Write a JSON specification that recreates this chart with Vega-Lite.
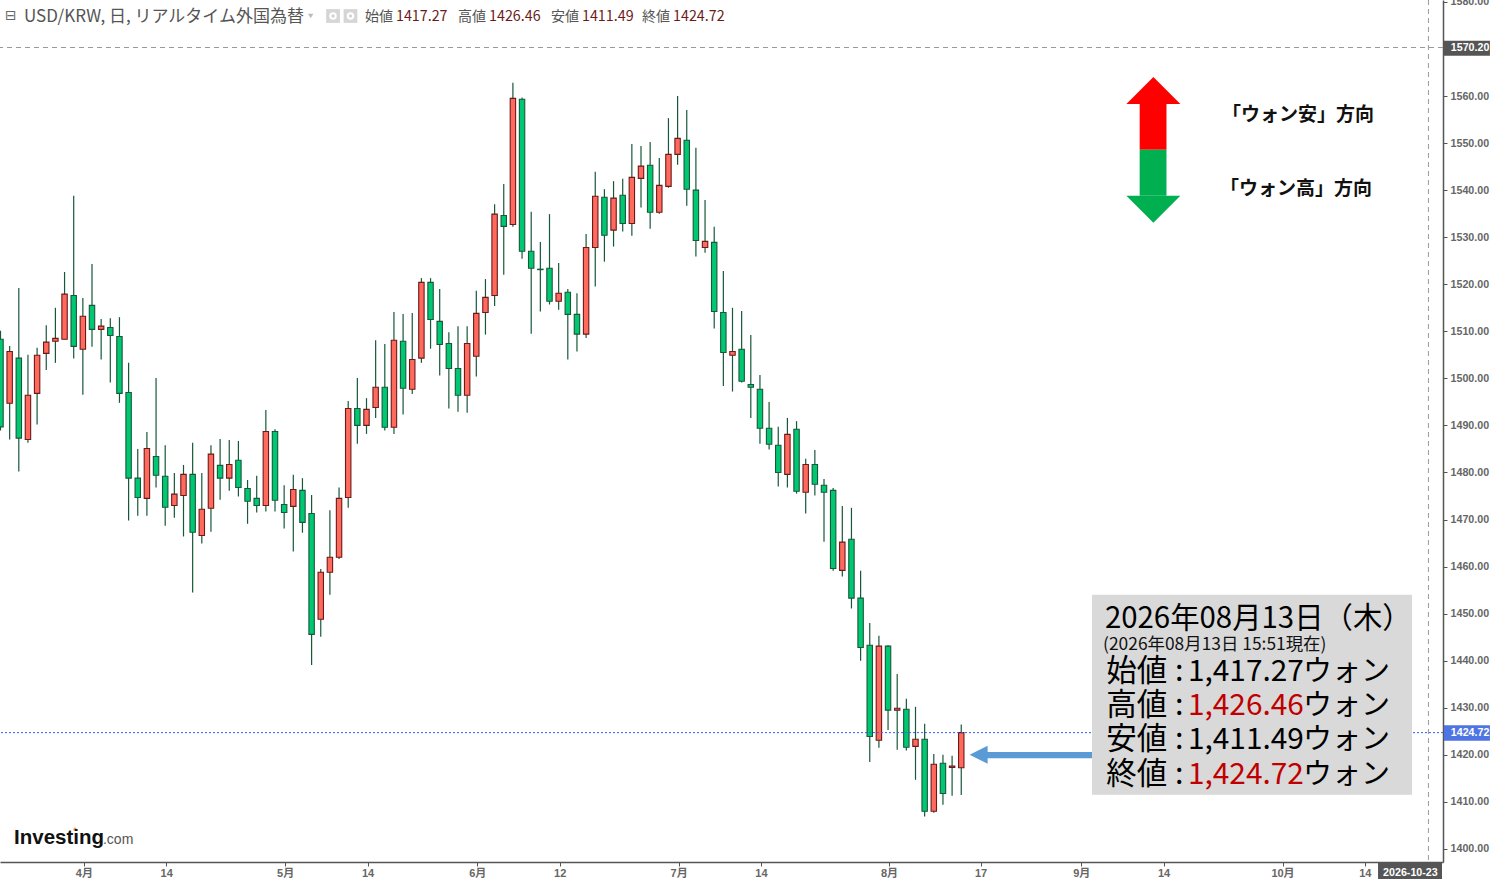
{
  "$schema": "https://vega.github.io/schema/vega-lite/v6.json",
  "width": 1443,
  "height": 862,
  "autosize": {"type": "none"},
  "padding": {"left": 0, "top": 0, "right": 47, "bottom": 17},
  "background": "white",
  "config": {"view": {"stroke": null}, "text": {"font": "Noto Sans CJK JP"}},
  "layer": [
    {
      "data": {"name": "candles"},
      "mark": {"type": "rule", "stroke": "#17583a", "strokeWidth": 1.2, "clip": true},
      "encoding": {
        "x": {
          "field": "slot",
          "type": "quantitative",
          "title": null,
          "scale": {"domain": [-0.055, 157.65], "nice": false, "zero": false, "padding": 0},
          "axis": {
            "orient": "bottom",
            "values": [9, 18, 31, 40, 52, 61, 74, 83, 97, 107, 118, 127, 140, 149],
            "labelExpr": "{'9':'4月','18':'14','31':'5月','40':'14','52':'6月','61':'12','74':'7月','83':'14','97':'8月','107':'17','118':'9月','127':'14','140':'10月','149':'14'}[''+datum.value]",
            "grid": false,
            "domainColor": "#555555",
            "domainWidth": 1.5,
            "tickColor": "#555555",
            "tickSize": 4,
            "tickOffset": 1,
            "labelPadding": 1,
            "labelFont": "Liberation Sans, Noto Sans CJK JP",
            "labelFontWeight": "bold",
            "labelFontSize": 11,
            "labelColor": "#666666",
            "labelOverlap": false,
            "labelFlush": false
          }
        },
        "y": {
          "field": "low",
          "type": "quantitative",
          "title": null,
          "scale": {"domain": [1397.23, 1580.4], "nice": false, "zero": false, "padding": 0},
          "axis": {
            "orient": "right",
            "values": [1400, 1410, 1420, 1430, 1440, 1450, 1460, 1470, 1480, 1490, 1500, 1510, 1520, 1530, 1540, 1550, 1560, 1570, 1580],
            "format": ".2f",
            "grid": false,
            "domainColor": "#555555",
            "domainWidth": 1.5,
            "tickColor": "#555555",
            "tickSize": 4,
            "labelPadding": 3,
            "labelFont": "Liberation Sans",
            "labelFontWeight": "bold",
            "labelFontSize": 10.7,
            "labelColor": "#666666",
            "labelOverlap": false,
            "labelFlush": false
          }
        },
        "y2": {"field": "high"}
      }
    },
    {
      "data": {"name": "candles"},
      "mark": {"type": "bar", "orient": "vertical", "size": 5.4, "strokeWidth": 1.1, "clip": true},
      "encoding": {
        "x": {"field": "slot", "type": "quantitative"},
        "y": {"field": "open", "type": "quantitative"},
        "y2": {"field": "close"},
        "fill": {"field": "kind", "type": "nominal", "legend": null, "scale": {"domain": ["up", "down", "panel", "pointer", "weak", "strong", "tag", "price"], "range": ["#ff6a5d", "#00c872", "#d9d9d9", "#5b9bd5", "#ff0000", "#00b050", "#555555", "#4f74e3"]}},
        "stroke": {"field": "kind", "type": "nominal", "legend": null, "scale": {"domain": ["up", "down"], "range": ["#6b1a1a", "#17583a"]}}
      }
    },
    {
      "data": {"values": [{"level": 1570.3}]},
      "mark": {"type": "rule", "stroke": "#999999", "strokeWidth": 1, "strokeDash": [5, 4]},
      "encoding": {"y": {"field": "level", "type": "quantitative"}}
    },
    {
      "data": {"values": [{"slot": 156.06}]},
      "mark": {"type": "rule", "stroke": "#999999", "strokeWidth": 1, "strokeDash": [5, 4]},
      "encoding": {"x": {"field": "slot", "type": "quantitative"}}
    },
    {
      "data": {"values": [{"level": 1424.72}]},
      "mark": {"type": "rule", "stroke": "#2f5fe8", "strokeWidth": 1, "strokeDash": [2, 2]},
      "encoding": {"y": {"field": "level", "type": "quantitative"}}
    },
    {
      "data": {"name": "boxes"},
      "mark": {"type": "rect", "clip": false},
      "encoding": {
        "x": {"field": "slot", "type": "quantitative"},
        "x2": {"field": "slot2"},
        "y": {"field": "price", "type": "quantitative"},
        "y2": {"field": "price2"},
        "fill": {"field": "kind", "type": "nominal", "legend": null}
      }
    },
    {
      "data": {"values": [{"slot": 126.0, "price": 1558.3}]},
      "mark": {"type": "point", "shape": "M-1,0L0,-1L1,0Z", "size": 2916, "filled": true, "fill": "#ff0000", "opacity": 1, "strokeWidth": 0},
      "encoding": {
        "x": {"field": "slot", "type": "quantitative"},
        "y": {"field": "price", "type": "quantitative"}
      }
    },
    {
      "data": {"values": [{"slot": 126.0, "price": 1538.8}]},
      "mark": {"type": "point", "shape": "M-1,0L0,1L1,0Z", "size": 2916, "filled": true, "fill": "#00b050", "opacity": 1, "strokeWidth": 0},
      "encoding": {
        "x": {"field": "slot", "type": "quantitative"},
        "y": {"field": "price", "type": "quantitative"}
      }
    },
    {
      "data": {"values": [{"slot": 106.9, "price": 1420.0}]},
      "mark": {"type": "point", "shape": "M1,-1L-1,0L1,1Z", "size": 324, "filled": true, "fill": "#5b9bd5", "opacity": 1, "strokeWidth": 0},
      "encoding": {
        "x": {"field": "slot", "type": "quantitative"},
        "y": {"field": "price", "type": "quantitative"}
      }
    },
    {
      "data": {"values": [{"slot": 33.9, "price": 1577.0}]},
      "mark": {"type": "point", "shape": "triangle-down", "size": 28, "filled": true, "fill": "#bbbbbb", "opacity": 1, "strokeWidth": 0},
      "encoding": {
        "x": {"field": "slot", "type": "quantitative"},
        "y": {"field": "price", "type": "quantitative"}
      }
    },
    {
      "data": {"values": [{"slot": 36.34, "price": 1577.0}, {"slot": 38.25, "price": 1577.0}]},
      "mark": {"type": "point", "shape": "square", "size": 190, "filled": true, "fill": "#d6d6d6", "opacity": 1, "strokeWidth": 0},
      "encoding": {
        "x": {"field": "slot", "type": "quantitative"},
        "y": {"field": "price", "type": "quantitative"}
      }
    },
    {
      "data": {"values": [{"slot": 36.34, "price": 1577.0}, {"slot": 38.25, "price": 1577.0}]},
      "mark": {"type": "point", "shape": "circle", "size": 30, "filled": false, "stroke": "white", "opacity": 1, "strokeWidth": 2},
      "encoding": {
        "x": {"field": "slot", "type": "quantitative"},
        "y": {"field": "price", "type": "quantitative"}
      }
    },
    {
      "data": {"values": [{"slot": 8.14, "price": 1404.2}]},
      "mark": {"type": "point", "shape": "circle", "size": 10, "filled": true, "fill": "#f5a623", "opacity": 1, "strokeWidth": 0},
      "encoding": {
        "x": {"field": "slot", "type": "quantitative"},
        "y": {"field": "price", "type": "quantitative"}
      }
    },
    {
      "data": {"name": "texts"},
      "transform": [{"filter": "datum.role == 'icon'"}],
      "mark": {"type": "text", "align": "left", "baseline": "middle", "font": "DejaVu Sans", "fontSize": 14, "fill": "#666666"},
      "encoding": {
        "x": {"field": "slot", "type": "quantitative"},
        "y": {"field": "price", "type": "quantitative"},
        "text": {"field": "label"}
      }
    },
    {
      "data": {"name": "texts"},
      "transform": [{"filter": "datum.role == 'header'"}],
      "mark": {"type": "text", "align": "left", "baseline": "middle", "font": "Noto Sans CJK JP", "fontSize": 17, "fill": "#555555"},
      "encoding": {
        "x": {"field": "slot", "type": "quantitative"},
        "y": {"field": "price", "type": "quantitative"},
        "text": {"field": "label"}
      }
    },
    {
      "data": {"name": "texts"},
      "transform": [{"filter": "datum.role == 'ohlcName'"}],
      "mark": {"type": "text", "align": "left", "baseline": "middle", "font": "Noto Sans CJK JP", "fontSize": 14, "fill": "#555555"},
      "encoding": {
        "x": {"field": "slot", "type": "quantitative"},
        "y": {"field": "price", "type": "quantitative"},
        "text": {"field": "label"}
      }
    },
    {
      "data": {"name": "texts"},
      "transform": [{"filter": "datum.role == 'ohlcValue'"}],
      "mark": {"type": "text", "align": "left", "baseline": "middle", "font": "Noto Sans CJK JP", "fontSize": 14.3, "fill": "#6b1a1a"},
      "encoding": {
        "x": {"field": "slot", "type": "quantitative"},
        "y": {"field": "price", "type": "quantitative"},
        "text": {"field": "label"}
      }
    },
    {
      "data": {"name": "texts"},
      "transform": [{"filter": "datum.role == 'logo'"}],
      "mark": {"type": "text", "align": "left", "baseline": "middle", "font": "Liberation Sans", "fontSize": 20.5, "fontWeight": "bold", "fill": "#111111"},
      "encoding": {
        "x": {"field": "slot", "type": "quantitative"},
        "y": {"field": "price", "type": "quantitative"},
        "text": {"field": "label"}
      }
    },
    {
      "data": {"name": "texts"},
      "transform": [{"filter": "datum.role == 'logoCom'"}],
      "mark": {"type": "text", "align": "left", "baseline": "middle", "font": "Liberation Sans", "fontSize": 14, "fill": "#555555"},
      "encoding": {
        "x": {"field": "slot", "type": "quantitative"},
        "y": {"field": "price", "type": "quantitative"},
        "text": {"field": "label"}
      }
    },
    {
      "data": {"name": "texts"},
      "transform": [{"filter": "datum.role == 'direction'"}],
      "mark": {"type": "text", "align": "left", "baseline": "middle", "font": "Noto Sans CJK JP", "fontSize": 19, "fontWeight": "bold", "fill": "#111111"},
      "encoding": {
        "x": {"field": "slot", "type": "quantitative"},
        "y": {"field": "price", "type": "quantitative"},
        "text": {"field": "label"}
      }
    },
    {
      "data": {"name": "texts"},
      "transform": [{"filter": "datum.role == 'tag'"}],
      "mark": {"type": "text", "align": "left", "baseline": "middle", "font": "Liberation Sans", "fontSize": 10.7, "fontWeight": "bold", "fill": "white"},
      "encoding": {
        "x": {"field": "slot", "type": "quantitative"},
        "y": {"field": "price", "type": "quantitative"},
        "text": {"field": "label"}
      }
    },
    {
      "data": {"name": "texts"},
      "transform": [{"filter": "datum.role == 'panelTitle'"}],
      "mark": {"type": "text", "align": "left", "baseline": "middle", "font": "Noto Sans CJK JP", "fontSize": 29.4, "fill": "#000000"},
      "encoding": {
        "x": {"field": "slot", "type": "quantitative"},
        "y": {"field": "price", "type": "quantitative"},
        "text": {"field": "label"}
      }
    },
    {
      "data": {"name": "texts"},
      "transform": [{"filter": "datum.role == 'panelNote'"}],
      "mark": {"type": "text", "align": "left", "baseline": "middle", "font": "Noto Sans CJK JP", "fontSize": 17.4, "fill": "#111111"},
      "encoding": {
        "x": {"field": "slot", "type": "quantitative"},
        "y": {"field": "price", "type": "quantitative"},
        "text": {"field": "label"}
      }
    },
    {
      "data": {"name": "texts"},
      "transform": [{"filter": "datum.role == 'panelName'"}],
      "mark": {"type": "text", "align": "left", "baseline": "middle", "font": "Noto Sans CJK JP", "fontSize": 30.5, "fill": "#000000"},
      "encoding": {
        "x": {"field": "slot", "type": "quantitative"},
        "y": {"field": "price", "type": "quantitative"},
        "text": {"field": "label"}
      }
    },
    {
      "data": {"name": "texts"},
      "transform": [{"filter": "datum.role == 'panelBlack'"}],
      "mark": {"type": "text", "align": "left", "baseline": "middle", "font": "Noto Sans CJK JP", "fontSize": 29.8, "fill": "#000000"},
      "encoding": {
        "x": {"field": "slot", "type": "quantitative"},
        "y": {"field": "price", "type": "quantitative"},
        "text": {"field": "label"}
      }
    },
    {
      "data": {"name": "texts"},
      "transform": [{"filter": "datum.role == 'panelRed'"}],
      "mark": {"type": "text", "align": "left", "baseline": "middle", "font": "Noto Sans CJK JP", "fontSize": 29.8, "fill": "#c00000"},
      "encoding": {
        "x": {"field": "slot", "type": "quantitative"},
        "y": {"field": "price", "type": "quantitative"},
        "text": {"field": "label"}
      }
    },
    {
      "data": {"name": "texts"},
      "transform": [{"filter": "datum.role == 'panelUnit'"}],
      "mark": {"type": "text", "align": "left", "baseline": "middle", "font": "Noto Sans CJK JP", "fontSize": 29, "fill": "#000000"},
      "encoding": {
        "x": {"field": "slot", "type": "quantitative"},
        "y": {"field": "price", "type": "quantitative"},
        "text": {"field": "label"}
      }
    }
  ],
  "resolve": {"scale": {"fill": "shared", "stroke": "independent"}},
  "datasets": {
    "boxes": [
      {"kind": "panel", "slot": 119.29, "slot2": 154.26, "price": 1454.0, "price2": 1411.5},
      {"kind": "pointer", "slot": 107.6, "slot2": 119.29, "price": 1420.6, "price2": 1419.3},
      {"kind": "weak", "slot": 124.5, "slot2": 127.43, "price": 1558.3, "price2": 1548.6},
      {"kind": "strong", "slot": 124.5, "slot2": 127.43, "price": 1548.6, "price2": 1538.8},
      {"kind": "tag", "slot": 157.76, "slot2": 162.78, "price": 1571.75, "price2": 1568.56},
      {"kind": "price", "slot": 157.76, "slot2": 162.78, "price": 1426.3, "price2": 1423.0},
      {"kind": "tag", "slot": 150.55, "slot2": 157.54, "price": 1397.23, "price2": 1393.6}
    ],
    "texts": [
      {"role": "icon", "slot": 0.49, "price": 1576.9, "label": "⊟"},
      {"role": "header", "slot": 2.57, "price": 1576.8, "label": "USD/KRW, 日, リアルタイム外国為替"},
      {"role": "ohlcName", "slot": 39.84, "price": 1576.7, "label": "始値"},
      {"role": "ohlcValue", "slot": 43.22, "price": 1576.7, "label": "1417.27"},
      {"role": "ohlcName", "slot": 50.0, "price": 1576.7, "label": "高値"},
      {"role": "ohlcValue", "slot": 53.39, "price": 1576.7, "label": "1426.46"},
      {"role": "ohlcName", "slot": 60.16, "price": 1576.7, "label": "安値"},
      {"role": "ohlcValue", "slot": 63.55, "price": 1576.7, "label": "1411.49"},
      {"role": "ohlcName", "slot": 70.11, "price": 1576.7, "label": "終値"},
      {"role": "ohlcValue", "slot": 73.5, "price": 1576.7, "label": "1424.72"},
      {"role": "logo", "slot": 1.48, "price": 1402.3, "label": "Investing"},
      {"role": "logoCom", "slot": 11.2, "price": 1402.0, "label": ".com"},
      {"role": "direction", "slot": 133.5, "price": 1556.0, "label": "「ウォン安」方向"},
      {"role": "direction", "slot": 133.28, "price": 1540.2, "label": "「ウォン高」方向"},
      {"role": "tag", "slot": 158.5, "price": 1570.15, "label": "1570.20"},
      {"role": "tag", "slot": 158.5, "price": 1424.67, "label": "1424.72"},
      {"role": "tag", "slot": 151.1, "price": 1394.9, "label": "2026-10-23"},
      {"role": "panelTitle", "slot": 120.7, "price": 1448.9, "label": "2026年08月13日（木）"},
      {"role": "panelNote", "slot": 120.5, "price": 1443.4, "label": "(2026年08月13日 15:51現在)"},
      {"role": "panelName", "slot": 120.85, "price": 1437.5, "label": "始値"},
      {"role": "panelName", "slot": 120.85, "price": 1430.3, "label": "高値"},
      {"role": "panelName", "slot": 120.85, "price": 1423.1, "label": "安値"},
      {"role": "panelName", "slot": 120.85, "price": 1415.8, "label": "終値"},
      {"role": "panelName", "slot": 128.36, "price": 1437.5, "label": ":"},
      {"role": "panelName", "slot": 128.36, "price": 1430.3, "label": ":"},
      {"role": "panelName", "slot": 128.36, "price": 1423.1, "label": ":"},
      {"role": "panelName", "slot": 128.36, "price": 1415.8, "label": ":"},
      {"role": "panelBlack", "slot": 129.78, "price": 1437.5, "label": "1,417.27"},
      {"role": "panelRed", "slot": 129.78, "price": 1430.3, "label": "1,426.46"},
      {"role": "panelBlack", "slot": 129.78, "price": 1423.1, "label": "1,411.49"},
      {"role": "panelRed", "slot": 129.78, "price": 1415.8, "label": "1,424.72"},
      {"role": "panelUnit", "slot": 142.35, "price": 1437.5, "label": "ウォン"},
      {"role": "panelUnit", "slot": 142.35, "price": 1430.3, "label": "ウォン"},
      {"role": "panelUnit", "slot": 142.35, "price": 1423.1, "label": "ウォン"},
      {"role": "panelUnit", "slot": 142.35, "price": 1415.8, "label": "ウォン"}
    ],
    "candles": [
      {"slot": 0, "kind": "down", "open": 1508.3, "high": 1510.1, "low": 1488.9, "close": 1489.7},
      {"slot": 1, "kind": "up", "open": 1494.7, "high": 1506.9, "low": 1487.0, "close": 1505.7},
      {"slot": 2, "kind": "down", "open": 1504.3, "high": 1519.2, "low": 1480.2, "close": 1487.3},
      {"slot": 3, "kind": "up", "open": 1487.0, "high": 1505.0, "low": 1486.3, "close": 1496.4},
      {"slot": 4, "kind": "up", "open": 1496.8, "high": 1506.5, "low": 1490.2, "close": 1504.9},
      {"slot": 5, "kind": "up", "open": 1505.3, "high": 1511.3, "low": 1501.8, "close": 1507.7},
      {"slot": 6, "kind": "up", "open": 1507.9, "high": 1515.0, "low": 1503.3, "close": 1508.5},
      {"slot": 7, "kind": "up", "open": 1508.3, "high": 1522.6, "low": 1508.3, "close": 1517.9},
      {"slot": 8, "kind": "down", "open": 1517.6, "high": 1538.8, "low": 1504.2, "close": 1506.8},
      {"slot": 9, "kind": "up", "open": 1506.2, "high": 1517.1, "low": 1496.5, "close": 1513.2},
      {"slot": 10, "kind": "down", "open": 1515.5, "high": 1524.3, "low": 1506.7, "close": 1510.4},
      {"slot": 11, "kind": "up", "open": 1510.4, "high": 1512.6, "low": 1504.0, "close": 1511.1},
      {"slot": 12, "kind": "down", "open": 1510.8, "high": 1512.8, "low": 1499.1, "close": 1509.1},
      {"slot": 13, "kind": "down", "open": 1508.9, "high": 1513.0, "low": 1494.8, "close": 1496.8},
      {"slot": 14, "kind": "down", "open": 1497.0, "high": 1503.3, "low": 1469.8, "close": 1478.8},
      {"slot": 15, "kind": "down", "open": 1478.8, "high": 1485.0, "low": 1470.8, "close": 1474.7},
      {"slot": 16, "kind": "up", "open": 1474.5, "high": 1488.6, "low": 1470.8, "close": 1485.1},
      {"slot": 17, "kind": "down", "open": 1483.4, "high": 1500.1, "low": 1476.8, "close": 1479.4},
      {"slot": 18, "kind": "down", "open": 1479.2, "high": 1485.8, "low": 1468.7, "close": 1472.6},
      {"slot": 19, "kind": "up", "open": 1473.0, "high": 1479.9, "low": 1470.4, "close": 1475.4},
      {"slot": 20, "kind": "up", "open": 1475.1, "high": 1481.6, "low": 1466.4, "close": 1479.6},
      {"slot": 21, "kind": "down", "open": 1479.6, "high": 1486.3, "low": 1454.5, "close": 1467.3},
      {"slot": 22, "kind": "up", "open": 1466.6, "high": 1479.9, "low": 1464.9, "close": 1472.2},
      {"slot": 23, "kind": "up", "open": 1472.4, "high": 1485.8, "low": 1467.4, "close": 1483.9},
      {"slot": 24, "kind": "down", "open": 1481.5, "high": 1487.1, "low": 1474.2, "close": 1478.8},
      {"slot": 25, "kind": "up", "open": 1478.8, "high": 1486.9, "low": 1476.1, "close": 1481.7},
      {"slot": 26, "kind": "down", "open": 1482.6, "high": 1486.7, "low": 1474.9, "close": 1476.8},
      {"slot": 27, "kind": "down", "open": 1476.6, "high": 1478.4, "low": 1469.1, "close": 1473.9},
      {"slot": 28, "kind": "down", "open": 1474.5, "high": 1479.3, "low": 1471.5, "close": 1473.0},
      {"slot": 29, "kind": "up", "open": 1473.0, "high": 1493.3, "low": 1471.7, "close": 1488.7},
      {"slot": 30, "kind": "down", "open": 1488.7, "high": 1489.2, "low": 1471.7, "close": 1474.1},
      {"slot": 31, "kind": "down", "open": 1473.2, "high": 1477.3, "low": 1468.1, "close": 1471.5},
      {"slot": 32, "kind": "up", "open": 1472.8, "high": 1479.5, "low": 1463.2, "close": 1476.4},
      {"slot": 33, "kind": "down", "open": 1476.2, "high": 1478.8, "low": 1467.2, "close": 1469.4},
      {"slot": 34, "kind": "down", "open": 1471.3, "high": 1475.2, "low": 1439.1, "close": 1445.6},
      {"slot": 35, "kind": "up", "open": 1448.8, "high": 1459.5, "low": 1445.1, "close": 1458.8},
      {"slot": 36, "kind": "up", "open": 1458.8, "high": 1472.0, "low": 1454.0, "close": 1462.0},
      {"slot": 37, "kind": "up", "open": 1462.0, "high": 1476.8, "low": 1461.6, "close": 1474.5},
      {"slot": 38, "kind": "up", "open": 1474.7, "high": 1495.2, "low": 1472.5, "close": 1493.6},
      {"slot": 39, "kind": "down", "open": 1493.6, "high": 1500.1, "low": 1486.1, "close": 1490.0},
      {"slot": 40, "kind": "up", "open": 1490.0, "high": 1495.8, "low": 1488.2, "close": 1493.4},
      {"slot": 41, "kind": "up", "open": 1493.8, "high": 1508.1, "low": 1491.6, "close": 1498.1},
      {"slot": 42, "kind": "down", "open": 1498.1, "high": 1507.3, "low": 1488.9, "close": 1489.6},
      {"slot": 43, "kind": "up", "open": 1489.6, "high": 1514.1, "low": 1488.2, "close": 1508.1},
      {"slot": 44, "kind": "down", "open": 1507.9, "high": 1513.7, "low": 1492.3, "close": 1497.9},
      {"slot": 45, "kind": "up", "open": 1497.7, "high": 1513.9, "low": 1496.7, "close": 1504.0},
      {"slot": 46, "kind": "up", "open": 1504.3, "high": 1521.3, "low": 1503.3, "close": 1520.4},
      {"slot": 47, "kind": "down", "open": 1520.4, "high": 1521.3, "low": 1506.3, "close": 1512.5},
      {"slot": 48, "kind": "down", "open": 1512.1, "high": 1519.0, "low": 1500.6, "close": 1507.2},
      {"slot": 49, "kind": "down", "open": 1507.4, "high": 1509.8, "low": 1493.6, "close": 1502.1},
      {"slot": 50, "kind": "down", "open": 1502.1, "high": 1511.1, "low": 1492.9, "close": 1496.4},
      {"slot": 51, "kind": "up", "open": 1496.4, "high": 1511.1, "low": 1492.7, "close": 1507.4},
      {"slot": 52, "kind": "up", "open": 1504.7, "high": 1518.6, "low": 1500.4, "close": 1513.8},
      {"slot": 53, "kind": "up", "open": 1514.0, "high": 1521.1, "low": 1509.3, "close": 1517.2},
      {"slot": 54, "kind": "up", "open": 1517.6, "high": 1537.0, "low": 1515.4, "close": 1534.9},
      {"slot": 55, "kind": "down", "open": 1534.6, "high": 1541.3, "low": 1522.0, "close": 1532.3},
      {"slot": 56, "kind": "up", "open": 1532.7, "high": 1562.8, "low": 1532.2, "close": 1559.5},
      {"slot": 57, "kind": "down", "open": 1559.3, "high": 1559.7, "low": 1525.4, "close": 1527.0},
      {"slot": 58, "kind": "down", "open": 1527.0, "high": 1535.4, "low": 1509.5, "close": 1523.4},
      {"slot": 59, "kind": "down", "open": 1523.2, "high": 1529.0, "low": 1514.2, "close": 1523.1},
      {"slot": 60, "kind": "down", "open": 1523.4, "high": 1534.9, "low": 1515.7, "close": 1516.4},
      {"slot": 61, "kind": "up", "open": 1516.4, "high": 1524.5, "low": 1514.6, "close": 1518.1},
      {"slot": 62, "kind": "down", "open": 1518.3, "high": 1519.0, "low": 1504.0, "close": 1513.6},
      {"slot": 63, "kind": "down", "open": 1513.6, "high": 1518.1, "low": 1505.7, "close": 1509.4},
      {"slot": 64, "kind": "up", "open": 1509.4, "high": 1530.7, "low": 1508.6, "close": 1527.8},
      {"slot": 65, "kind": "up", "open": 1527.8, "high": 1543.9, "low": 1519.5, "close": 1538.7},
      {"slot": 66, "kind": "down", "open": 1538.5, "high": 1540.2, "low": 1524.8, "close": 1530.4},
      {"slot": 67, "kind": "up", "open": 1531.5, "high": 1541.9, "low": 1528.0, "close": 1538.3},
      {"slot": 68, "kind": "down", "open": 1538.9, "high": 1542.4, "low": 1531.2, "close": 1532.9},
      {"slot": 69, "kind": "up", "open": 1532.9, "high": 1549.8, "low": 1530.3, "close": 1542.7},
      {"slot": 70, "kind": "up", "open": 1542.5, "high": 1549.4, "low": 1536.3, "close": 1545.1},
      {"slot": 71, "kind": "down", "open": 1545.3, "high": 1550.2, "low": 1531.8, "close": 1535.3},
      {"slot": 72, "kind": "up", "open": 1535.3, "high": 1546.8, "low": 1535.0, "close": 1541.0},
      {"slot": 73, "kind": "up", "open": 1540.8, "high": 1555.3, "low": 1540.5, "close": 1547.6},
      {"slot": 74, "kind": "up", "open": 1547.6, "high": 1560.0, "low": 1545.4, "close": 1551.0},
      {"slot": 75, "kind": "down", "open": 1550.6, "high": 1557.0, "low": 1536.7, "close": 1540.2},
      {"slot": 76, "kind": "down", "open": 1540.0, "high": 1549.0, "low": 1525.9, "close": 1529.3},
      {"slot": 77, "kind": "up", "open": 1527.8, "high": 1537.9, "low": 1526.7, "close": 1529.1},
      {"slot": 78, "kind": "down", "open": 1528.9, "high": 1532.2, "low": 1510.6, "close": 1514.2},
      {"slot": 79, "kind": "down", "open": 1514.0, "high": 1522.8, "low": 1498.4, "close": 1505.5},
      {"slot": 80, "kind": "up", "open": 1504.9, "high": 1515.0, "low": 1497.2, "close": 1505.7},
      {"slot": 81, "kind": "down", "open": 1506.2, "high": 1514.3, "low": 1499.1, "close": 1499.4},
      {"slot": 82, "kind": "down", "open": 1498.7, "high": 1509.2, "low": 1491.6, "close": 1498.1},
      {"slot": 83, "kind": "down", "open": 1497.7, "high": 1500.7, "low": 1486.1, "close": 1489.4},
      {"slot": 84, "kind": "down", "open": 1489.4, "high": 1495.0, "low": 1484.9, "close": 1486.0},
      {"slot": 85, "kind": "down", "open": 1485.8, "high": 1489.7, "low": 1477.0, "close": 1480.0},
      {"slot": 86, "kind": "up", "open": 1479.6, "high": 1491.6, "low": 1476.8, "close": 1488.1},
      {"slot": 87, "kind": "down", "open": 1489.2, "high": 1490.9, "low": 1475.5, "close": 1476.0},
      {"slot": 88, "kind": "up", "open": 1475.8, "high": 1482.9, "low": 1471.3, "close": 1481.7},
      {"slot": 89, "kind": "down", "open": 1481.7, "high": 1484.8, "low": 1475.1, "close": 1477.5},
      {"slot": 90, "kind": "down", "open": 1477.3, "high": 1478.6, "low": 1465.3, "close": 1475.8},
      {"slot": 91, "kind": "down", "open": 1476.2, "high": 1476.7, "low": 1459.1, "close": 1459.6},
      {"slot": 92, "kind": "up", "open": 1459.2, "high": 1472.9, "low": 1457.9, "close": 1465.2},
      {"slot": 93, "kind": "down", "open": 1465.8, "high": 1472.5, "low": 1451.1, "close": 1453.3},
      {"slot": 94, "kind": "down", "open": 1453.3, "high": 1459.1, "low": 1440.0, "close": 1442.8},
      {"slot": 95, "kind": "down", "open": 1443.3, "high": 1448.0, "low": 1418.5, "close": 1423.9},
      {"slot": 96, "kind": "up", "open": 1423.1, "high": 1445.3, "low": 1421.5, "close": 1443.1},
      {"slot": 97, "kind": "down", "open": 1443.1, "high": 1443.3, "low": 1425.3, "close": 1429.5},
      {"slot": 98, "kind": "up", "open": 1429.5, "high": 1437.2, "low": 1421.1, "close": 1429.9},
      {"slot": 99, "kind": "down", "open": 1429.7, "high": 1431.9, "low": 1420.9, "close": 1421.6},
      {"slot": 100, "kind": "up", "open": 1421.8, "high": 1430.2, "low": 1414.7, "close": 1423.3},
      {"slot": 101, "kind": "down", "open": 1423.3, "high": 1426.6, "low": 1406.9, "close": 1408.0},
      {"slot": 102, "kind": "up", "open": 1408.0, "high": 1420.2, "low": 1407.7, "close": 1418.0},
      {"slot": 103, "kind": "down", "open": 1418.2, "high": 1420.0, "low": 1409.4, "close": 1411.8},
      {"slot": 104, "kind": "up", "open": 1417.3, "high": 1419.8, "low": 1411.3, "close": 1417.6},
      {"slot": 105, "kind": "up", "open": 1417.27, "high": 1426.46, "low": 1411.49, "close": 1424.72}
    ]
  }
}
